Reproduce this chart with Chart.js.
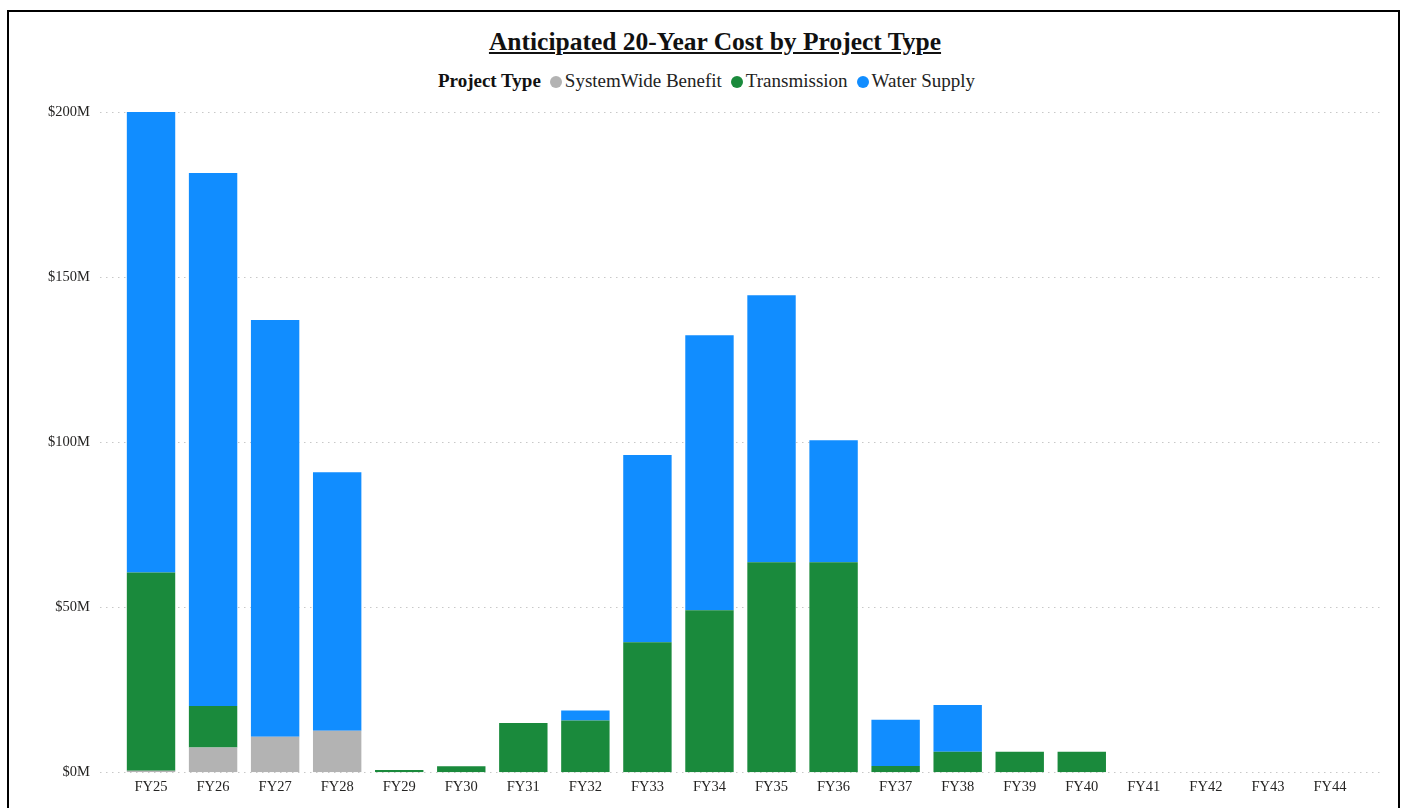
<!DOCTYPE html>
<html>
<head>
<meta charset="utf-8">
<script src="https://cdn.jsdelivr.net/npm/chart.js@4.4.1/dist/chart.umd.min.js"></script>
<style>
  html, body { margin: 0; padding: 0; background: #fff; overflow: hidden; }
  body { width: 1403px; height: 808px; position: relative; font-family: "Liberation Serif", "Times New Roman", serif; }
  #frame { position: absolute; left: 7px; top: 10px; width: 1389px; height: 830px; border: 2.5px solid #000; }
  #title { position: absolute; left: 0; width: 1430px; top: 27px; text-align: center; font-size: 25.5px; font-weight: bold; text-decoration: underline; color: #111; }
  #legend { position: absolute; left: 0; width: 1422px; top: 70px; text-align: center; font-size: 19px; color: #222; }
  #legend b { margin-right: 9px; color: #111; }
  #legend .item { margin-right: 9px; }
  #legend .dot { display: inline-block; width: 12px; height: 12px; border-radius: 50%; margin-right: 3px; vertical-align: -1px; }
  #wrap { position: absolute; left: 0; top: 0; width: 1403px; height: 811px; }
</style>
</head>
<body>
<div id="frame"></div>
<div id="title">Anticipated 20-Year Cost by Project Type</div>
<div id="legend"></div>
<div id="wrap"><canvas id="costChart"></canvas></div>
<script>
// values in $M
const years = ['FY25', 'FY26', 'FY27', 'FY28', 'FY29', 'FY30', 'FY31', 'FY32', 'FY33', 'FY34',
               'FY35', 'FY36', 'FY37', 'FY38', 'FY39', 'FY40', 'FY41', 'FY42', 'FY43', 'FY44'];
const systemWide = [0.5, 7.5, 10.8, 12.6, 0, 0, 0, 0, 0, 0, 0, 0, 0, 0, 0, 0, 0, 0, 0, 0];
const transmission = [60, 12.6, 0, 0, 0.7, 1.8, 14.9, 15.7, 39.4, 49.1, 63.6, 63.6, 1.9, 6.2, 6.2, 6.2, 0, 0, 0, 0];
const waterSupply = [139.5, 161.4, 126.2, 78.3, 0, 0, 0, 3.0, 56.7, 83.3, 80.9, 37, 14.0, 14.2, 0, 0, 0, 0, 0, 0];
const yTicks = [0, 50, 100, 150, 200];

const seriesNames = ['SystemWide Benefit', 'Transmission', 'Water Supply'];
const seriesColors = ['#B3B3B3', '#1A8A3C', '#118DFF'];

// html legend
const legend = document.getElementById('legend');
legend.innerHTML = '<b>Project Type</b>' + seriesNames.map((n, i) =>
    '<span class="item"><span class="dot" style="background:' + seriesColors[i] + '"></span>' + n + '</span>').join('');

// dotted grid lines, a bit wider than the plot area like the original
const dottedGrid = {
    id: 'dottedGrid',
    beforeDatasetsDraw(chart) {
        const ctx = chart.ctx;
        const y = chart.scales.y;
        ctx.save();
        ctx.strokeStyle = '#c8c8c8';
        ctx.lineWidth = 1;
        ctx.setLineDash([1.5, 4.5]);
        yTicks.forEach(v => {
            const py = Math.round(y.getPixelForValue(v)) + 0.5;
            ctx.beginPath();
            ctx.moveTo(100, py);
            ctx.lineTo(1381, py);
            ctx.stroke();
        });
        ctx.restore();
    }
};

const ctx = document.getElementById('costChart').getContext('2d');
new Chart(ctx, {
    type: 'bar',
    data: {
        labels: years,
        datasets: [systemWide, transmission, waterSupply].map((d, i) => ({
            label: seriesNames[i],
            data: d,
            backgroundColor: seriesColors[i],
            borderWidth: 0,
            barPercentage: 0.78,
            categoryPercentage: 1.0
        }))
    },
    options: {
        responsive: true,
        maintainAspectRatio: false,
        animation: false,
        layout: { padding: { top: 112, right: 42, left: 0, bottom: 0 } },
        plugins: {
            legend: { display: false },
            title: { display: false },
            tooltip: { enabled: false }
        },
        scales: {
            x: {
                stacked: true,
                grid: { display: false },
                border: { display: false },
                ticks: {
                    color: '#252423',
                    font: { family: 'Liberation Serif', size: 14.5 },
                    padding: -2,
                    maxRotation: 0,
                    autoSkip: false
                }
            },
            y: {
                stacked: true,
                min: 0,
                max: 200,
                afterBuildTicks(scale) { scale.ticks = yTicks.map(v => ({ value: v })); },
                grid: { display: false, drawTicks: false },
                border: { display: false },
                ticks: {
                    color: '#252423',
                    font: { family: 'Liberation Serif', size: 14.5 },
                    padding: 30,
                    callback: v => '$' + v + 'M'
                },
                afterFit(scale) { scale.width = 120; }
            }
        }
    },
    plugins: [dottedGrid]
});
</script>
</body>
</html>
